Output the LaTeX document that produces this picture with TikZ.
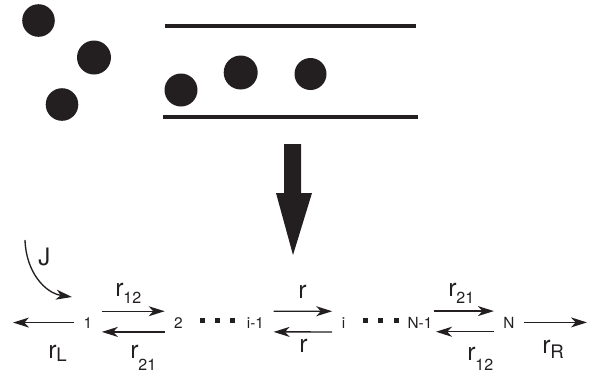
\documentclass[tikz,border=0pt]{standalone}
\usepackage{fontspec}
\setmainfont{TeX Gyre Heros}
\usepackage{tikz}
\usetikzlibrary{arrows.meta, positioning}
\usepackage{xcolor}
\definecolor{ink}{HTML}{231F20}

\newcommand{\rletter}{{\fontsize{18.5}{18.5}\selectfont r}}
\newcommand{\rate}[3]{\rletter\raisebox{-#3}{\fontsize{#2}{#2}\selectfont #1}}

\begin{document}
\begin{tikzpicture}[x=0.75pt, y=-0.75pt, >={Stealth[length=12pt, width=7.5pt, inset=3.5pt]},
                    state/.style={anchor=base, inner xsep=7pt, inner ysep=0pt, text=ink, font=\fontsize{11.5}{11.5}\selectfont},
                    ratelabel/.style={anchor=base west, inner sep=0pt, text=ink},
                    rate arrow/.style={->, draw=ink, line width=1pt}]
                    \useasboundingbox (0,0) rectangle (589,376);

                    % Particles outside and inside the channel
                    \foreach \x/\y/\r in {38.5/20.5/16.3, 94/57.5/17, 62/104.5/16.3, 181/90/16.5, 240.7/72.5/17, 310.5/74/16}
                        \fill[ink] (\x,\y) circle (\r);
                    \draw[ink, line width=2.5pt] (165,26) -- (416,26);
                    \draw[ink, line width=2.5pt] (163,117) -- (418,117);

                    % Big arrow
                    \fill[ink] (284,144) -- (301,144) -- (301,193) -- (312,193) -- (293,255) -- (276,193) -- (284,193) -- cycle;

                    % States
                    \node[state] (n1)   at (88,328)    {1};
                    \node[state] (n2)   at (178.5,328) {2};
                    \node[state] (nim1) at (255.5,328) {i-1};
                    \node[state] (ni)   at (343.5,328) {i};
                    \node[state] (nNm1) at (420,328)   {N-1};
                    \node[state] (nN)   at (509,328)   {N};

                    \foreach \x in {202,217,232,365,380,396}
                        \fill[ink] (\x-2.5,317.5) rectangle (\x+2.5,323);

                    \coordinate (lend) at (13,322.5);
                    \coordinate (rend) at (587,322.5);
                    \coordinate (jstart) at (25,240);
                    \coordinate (jend) at (72,297);

                    % Hopping rates
                    \draw[rate arrow] ([yshift=8.5pt]n1.east) -- ([yshift=8.5pt]n2.west);
                    \draw[rate arrow] ([yshift=-7pt]n2.west) -- ([yshift=-7pt]n1.east);
                    \draw[rate arrow] ([yshift=8.5pt]nim1.east) -- ([yshift=8.5pt]ni.west);
                    \draw[rate arrow] ([yshift=-7pt]ni.west) -- ([yshift=-7pt]nim1.east);
                    \draw[rate arrow] ([xshift=-6pt, yshift=8.5pt]nNm1.east) -- ([yshift=8.5pt]nN.west);
                    \draw[rate arrow] ([yshift=-7pt]nN.west) -- ([xshift=-4.5pt, yshift=-7pt]nNm1.east);

                    % Boundaries
                    \draw[rate arrow] (n1.west) -- (n1.west -| lend);
                    \draw[rate arrow] (nN.east) -- (nN.east -| rend);
                    \draw[rate arrow] (jstart) .. controls (26,272) and (45,293) .. (jend);

                    % Labels
                    \node[ratelabel] (lJ)   at (38,265)  {\fontsize{18}{18}\selectfont J};
                    \node[ratelabel] (l12)  at (115,296) {\rate{12}{12}{5.25pt}};
                    \node[ratelabel] (l21)  at (130,358) {\rate{21}{12}{9pt}};
                    \node[ratelabel] (lL)   at (48,358)  {\rate{L}{14}{2.6pt}};
                    \node[ratelabel] (lf)   at (298,298) {\rletter};
                    \node[ratelabel] (lb)   at (299,352) {\rletter};
                    \node[ratelabel] (l21r) at (448,296) {\rate{21}{12}{5.25pt}};
                    \node[ratelabel] (l12r) at (467,360) {\rate{12}{12}{7.5pt}};
                    \node[ratelabel] (lR)   at (542,353) {\rate{R}{14}{3.75pt}};

                \end{tikzpicture}
\end{document}
